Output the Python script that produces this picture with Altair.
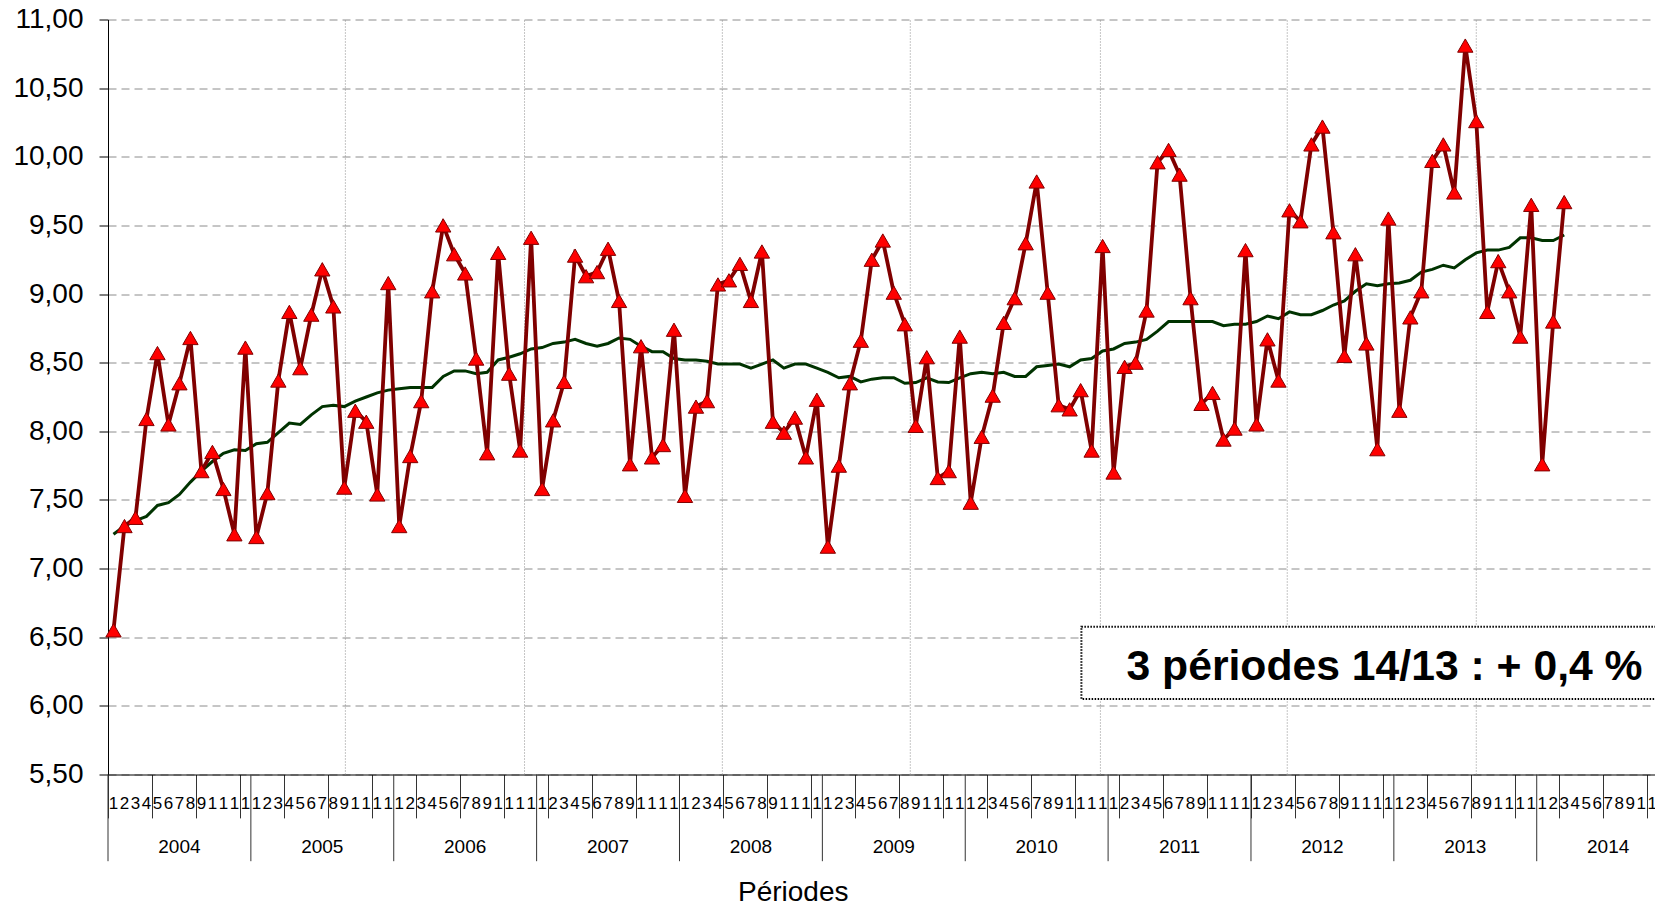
import altair as alt
import pandas as pd

# ---------------- data ----------------
years = [2004, 2005, 2006, 2007, 2008, 2009, 2010, 2011, 2012, 2013, 2014]
period_labels = ["1", "2", "3", "4", "5", "6", "7", "8", "9", "10", "11", "12", "13"]

values_2004 = [6.55, 7.31, 7.37, 8.09, 8.57, 8.05, 8.35, 8.68, 7.71, 7.85, 7.58, 7.25, 8.61]
values_2005 = [7.23, 7.55, 8.37, 8.87, 8.46, 8.85, 9.18, 8.91, 7.59, 8.15, 8.07, 7.54, 9.08]
values_2006 = [7.31, 7.82, 8.22, 9.02, 9.50, 9.29, 9.15, 8.53, 7.84, 9.30, 8.42, 7.86, 9.41]
values_2007 = [7.58, 8.08, 8.36, 9.28, 9.13, 9.16, 9.33, 8.95, 7.76, 8.62, 7.81, 7.90, 8.74]
values_2008 = [7.53, 8.18, 8.22, 9.07, 9.10, 9.22, 8.95, 9.31, 8.07, 7.99, 8.10, 7.81, 8.23]
values_2009 = [7.16, 7.75, 8.35, 8.66, 9.25, 9.39, 9.01, 8.78, 8.04, 8.54, 7.66, 7.71, 8.69]
values_2010 = [7.48, 7.96, 8.26, 8.79, 8.97, 9.37, 9.82, 9.01, 8.19, 8.16, 8.30, 7.86, 9.35]
values_2011 = [7.70, 8.47, 8.50, 8.88, 9.96, 10.05, 9.87, 8.97, 8.20, 8.28, 7.94, 8.02, 9.32]
values_2012 = [8.05, 8.67, 8.37, 9.61, 9.53, 10.09, 10.22, 9.45, 8.55, 9.29, 8.64, 7.87, 9.55]
values_2013 = [8.15, 8.83, 9.02, 9.97, 10.09, 9.74, 10.81, 10.26, 8.87, 9.24, 9.02, 8.69, 9.65]
values_2014 = [7.76, 8.80, 9.67]

trend_2004 = [7.25, 7.31, 7.35, 7.38, 7.46, 7.48, 7.54, 7.63, 7.71, 7.78, 7.84, 7.865, 7.86]
trend_2005 = [7.91, 7.92, 7.99, 8.06, 8.05, 8.12, 8.18, 8.19, 8.18, 8.22, 8.25, 8.28, 8.30]
trend_2006 = [8.31, 8.32, 8.32, 8.32, 8.40, 8.44, 8.44, 8.42, 8.43, 8.52, 8.54, 8.565, 8.60]
trend_2007 = [8.61, 8.64, 8.65, 8.67, 8.64, 8.62, 8.64, 8.68, 8.67, 8.62, 8.58, 8.58, 8.53]
trend_2008 = [8.52, 8.52, 8.51, 8.49, 8.49, 8.49, 8.46, 8.49, 8.52, 8.46, 8.49, 8.49, 8.46]
trend_2009 = [8.43, 8.39, 8.40, 8.36, 8.38, 8.39, 8.39, 8.35, 8.355, 8.39, 8.36, 8.355, 8.39]
trend_2010 = [8.42, 8.43, 8.42, 8.43, 8.40, 8.40, 8.47, 8.48, 8.49, 8.47, 8.52, 8.53, 8.585]
trend_2011 = [8.60, 8.64, 8.65, 8.67, 8.73, 8.80, 8.80, 8.80, 8.80, 8.80, 8.77, 8.78, 8.78]
trend_2012 = [8.80, 8.84, 8.82, 8.87, 8.85, 8.85, 8.88, 8.92, 8.95, 9.02, 9.075, 9.06, 9.075]
trend_2013 = [9.08, 9.10, 9.16, 9.18, 9.21, 9.19, 9.25, 9.30, 9.32, 9.32, 9.34, 9.41, 9.41]
trend_2014 = [9.39, 9.39, 9.43]

y_ticks = [5.5, 6.0, 6.5, 7.0, 7.5, 8.0, 8.5, 9.0, 9.5, 10.0, 10.5, 11.0]
v_grid = [21.6, 37.9, 55.9, 73.0, 90.3, 107.3, 124.5]   # dotted vertical grid lines (in periods)
annotation = "3 périodes 14/13 : + 0,4 %"

# ---------------- tables ----------------
all_values = [values_2004, values_2005, values_2006, values_2007, values_2008, values_2009,
              values_2010, values_2011, values_2012, values_2013, values_2014]
all_trend = [trend_2004, trend_2005, trend_2006, trend_2007, trend_2008, trend_2009,
             trend_2010, trend_2011, trend_2012, trend_2013, trend_2014]
n_per = len(period_labels)

rows = []
for yi, (vals, trs) in enumerate(zip(all_values, all_trend)):
    for pi, (v, t) in enumerate(zip(vals, trs)):
        rows.append({"pos": yi * n_per + pi + 0.5, "value": v, "trend": t,
                     "year": years[yi], "period": period_labels[pi]})
df = pd.DataFrame(rows)

lab_rows = []
for yi, yr in enumerate(years):
    for pi, p in enumerate(period_labels):
        lab_rows.append({"pos": yi * n_per + pi + 0.5, "label": p})
df_lab = pd.DataFrame(lab_rows)

df_year = pd.DataFrame({"pos": [i * n_per + n_per / 2 for i in range(len(years))],
                        "year": [str(y) for y in years]})
df_sep = pd.DataFrame({"pos": [i * n_per for i in range(len(years) + 1)]})
df_vgrid = pd.DataFrame({"pos": v_grid})
df_box = pd.DataFrame({"x": [88.57], "x2": [143.0], "y": [6.577], "y2": [6.050]})
df_txt = pd.DataFrame({"x": [92.67], "y": [6.188], "t": [annotation]})

# ---------------- geometry ----------------
n_cat = len(years) * n_per
FULL_W = 1571.6          # full width of the 143 periods (the right end is cut off)
W = 1547                 # visible plot width
H = 755
FONT = "Liberation Sans"

xs = alt.Scale(domain=[0, n_cat], range=[0, FULL_W], nice=False, zero=False)
ys = alt.Scale(domain=[5.5, 11.0], nice=False, zero=False)

x_axis = alt.Axis(values=list(range(0, n_cat + 1)), labels=False, grid=False,
                  tickSize=43.4, tickColor="#333333", tickWidth=1,
                  domainColor="black", domainWidth=1,
                  title="Périodes", titleFont=FONT, titleFontSize=28,
                  titleFontWeight="normal", titleColor="black",
                  titleX=684.7, titleY=125.5, titleBaseline="alphabetic",
                  titleAlign="center")
y_axis = alt.Axis(values=y_ticks,
                  labelExpr="replace(format(datum.value, '.2f'), '.', ',')",
                  labelFont=FONT, labelFontSize=28, labelColor="black",
                  labelPadding=16, tickSize=9, tickColor="black",
                  domainColor="black", domainWidth=1,
                  grid=True, gridDash=[8, 5], gridColor="#8c8c8c", gridWidth=1,
                  title=None)

base = alt.Chart(df)

vgrid = alt.Chart(df_vgrid).mark_rule(color="#8c8c8c", strokeDash=[1, 2], strokeWidth=1).encode(
    x=alt.X("pos:Q", scale=xs, axis=x_axis),
    y=alt.datum(5.5, scale=ys, axis=y_axis),
    y2=alt.datum(11.0),
)

box = alt.Chart(df_box).mark_rect(fill="white", stroke="black", strokeWidth=2,
                                  strokeDash=[1.5, 1.5]).encode(
    x=alt.X("x:Q", scale=xs), x2="x2:Q",
    y=alt.Y("y:Q", scale=ys), y2="y2:Q",
)
box_text = alt.Chart(df_txt).mark_text(font=FONT, fontSize=42.7, fontWeight="bold",
                                       align="left", baseline="alphabetic",
                                       color="black").encode(
    x=alt.X("x:Q", scale=xs), y=alt.Y("y:Q", scale=ys), text="t:N")

trend_line = base.mark_line(color="#003300", strokeWidth=3).encode(
    x=alt.X("pos:Q", scale=xs), y=alt.Y("trend:Q", scale=ys))
value_line = base.mark_line(color="#800000", strokeWidth=3.8).encode(
    x=alt.X("pos:Q", scale=xs), y=alt.Y("value:Q", scale=ys))
value_pts = base.mark_point(shape="triangle-up", filled=True, fill="#ff0000",
                            stroke="#800000", strokeWidth=1, size=235, opacity=1).encode(
    x=alt.X("pos:Q", scale=xs), y=alt.Y("value:Q", scale=ys))

period_text = alt.Chart(df_lab).transform_calculate(
    short="substring(datum.label, 0, 1)"
).mark_text(font=FONT, fontSize=17, align="center", baseline="alphabetic",
            color="black").encode(
    x=alt.X("pos:Q", scale=xs), y=alt.value(H + 34), text="short:N")

year_text = alt.Chart(df_year).mark_text(font=FONT, fontSize=19, align="center",
                                         baseline="alphabetic", color="black").encode(
    x=alt.X("pos:Q", scale=xs), y=alt.value(H + 78), text="year:N")

year_sep = alt.Chart(df_sep).mark_rule(color="#333333", strokeWidth=1).encode(
    x=alt.X("pos:Q", scale=xs), y=alt.value(H), y2=alt.value(H + 86.7))

chart = alt.layer(
    vgrid, box, box_text, trend_line, value_line, value_pts,
    period_text, year_text, year_sep
).properties(
    width=W, height=H,
    padding={"left": 100, "top": 11.5, "right": 0, "bottom": 126.5},
    autosize=alt.AutoSizeParams(type="none"),
    background="white",
).configure_view(stroke=None)

chart.save("out.html", embed_options={"renderer": "svg", "actions": False})
